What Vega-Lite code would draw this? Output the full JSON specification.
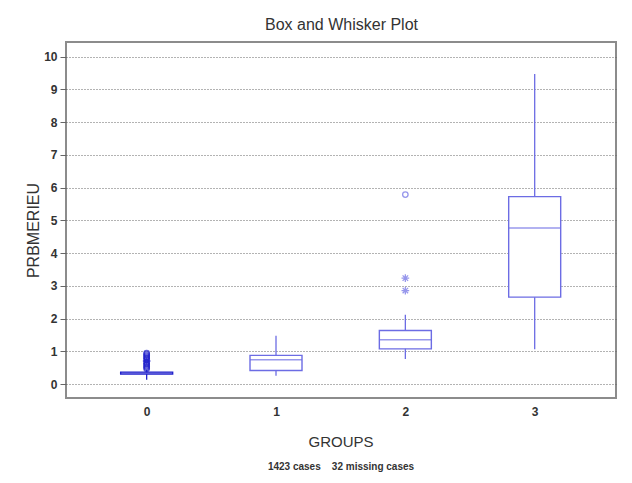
{
  "$schema": "https://vega.github.io/schema/vega-lite/v6.json",
  "width": 550,
  "height": 356,
  "autosize": "none",
  "padding": {"left": 66, "top": 42, "right": 16, "bottom": 85},
  "background": "white",
  "title": {
    "text": "GROUPS",
    "subtitle": "1423 cases\u00a0\u00a0\u00a0 32 missing cases",
    "orient": "bottom",
    "anchor": "middle",
    "font": "Liberation Sans",
    "fontSize": 15,
    "fontWeight": "normal",
    "color": "#333333",
    "offset": 18,
    "subtitleFont": "Liberation Sans",
    "subtitleFontSize": 10,
    "subtitleFontWeight": "bold",
    "subtitleColor": "#333333",
    "subtitlePadding": 12
  },
  "datasets": {
    "boxes": [
      {"group": 0, "lower": 0.14, "q1": 0.31, "median": 0.34, "q3": 0.37, "upper": 0.45},
      {"group": 1, "lower": 0.26, "q1": 0.42, "median": 0.75, "q3": 0.88, "upper": 1.48},
      {"group": 2, "lower": 0.77, "q1": 1.08, "median": 1.36, "q3": 1.64, "upper": 2.12},
      {"group": 3, "lower": 1.07, "q1": 2.66, "median": 4.77, "q3": 5.73, "upper": 9.47}
    ],
    "outliers": [
      {"group": 0, "value": 0.47, "kind": "outlier"},
      {"group": 0, "value": 0.51, "kind": "outlier"},
      {"group": 0, "value": 0.55, "kind": "outlier"},
      {"group": 0, "value": 0.59, "kind": "outlier"},
      {"group": 0, "value": 0.63, "kind": "outlier"},
      {"group": 0, "value": 0.67, "kind": "outlier"},
      {"group": 0, "value": 0.71, "kind": "extreme"},
      {"group": 0, "value": 0.75, "kind": "outlier"},
      {"group": 0, "value": 0.79, "kind": "outlier"},
      {"group": 0, "value": 0.83, "kind": "outlier"},
      {"group": 0, "value": 0.87, "kind": "outlier"},
      {"group": 0, "value": 0.91, "kind": "outlier"},
      {"group": 0, "value": 0.95, "kind": "outlier"},
      {"group": 2, "value": 5.79, "kind": "outlier"},
      {"group": 2, "value": 3.24, "kind": "extreme"},
      {"group": 2, "value": 2.86, "kind": "extreme"}
    ]
  },
  "layer": [
    {
      "data": {"name": "boxes"},
      "mark": {"type": "rule", "strokeWidth": 1.3},
      "encoding": {
        "x": {
          "field": "group", "type": "quantitative",
          "scale": {"domain": [-0.585, 3.59], "nice": false, "zero": false},
          "axis": {
            "orient": "bottom", "title": null, "values": [0, 1, 2, 3], "format": "d",
            "ticks": false, "domain": false, "grid": false,
            "labelFont": "Liberation Sans Narrow, Arial Narrow, Liberation Sans",
            "labelFontSize": 12, "labelFontWeight": "bold", "labelColor": "#333333",
            "labelPadding": 8
          }
        },
        "y": {
          "field": "lower", "type": "quantitative", "title": "PRBMERIEU",
          "scale": {"domain": [-0.42, 10.45], "nice": false, "zero": false},
          "axis": {"values": [0, 1, 2, 3, 4, 5, 6, 7, 8, 9, 10], "tickCount": 11}
        },
        "y2": {"field": "upper"},
        "stroke": {
          "field": "group", "type": "nominal",
          "scale": {"domain": [0, 1, 2, 3], "range": ["#2222cc", "#6c6ce4", "#6c6ce4", "#6c6ce4"]},
          "legend": null
        }
      }
    },
    {
      "data": {"name": "boxes"},
      "mark": {"type": "bar", "size": 52, "fill": "white", "strokeWidth": 1.4},
      "encoding": {
        "x": {
          "field": "group", "type": "quantitative",
          "scale": {"domain": [-0.585, 3.59], "nice": false, "zero": false},
          "axis": null
        },
        "y": {
          "field": "q1", "type": "quantitative", "title": "PRBMERIEU",
          "scale": {"domain": [-0.42, 10.45], "nice": false, "zero": false},
          "axis": {"values": [0, 1, 2, 3, 4, 5, 6, 7, 8, 9, 10], "tickCount": 11}
        },
        "y2": {"field": "q3"},
        "stroke": {
          "field": "group", "type": "nominal",
          "scale": {"domain": [0, 1, 2, 3], "range": ["#2222cc", "#6c6ce4", "#6c6ce4", "#6c6ce4"]},
          "legend": null
        }
      }
    },
    {
      "data": {"name": "boxes"},
      "mark": {"type": "tick", "orient": "horizontal", "size": 52, "thickness": 1.4},
      "encoding": {
        "x": {
          "field": "group", "type": "quantitative",
          "scale": {"domain": [-0.585, 3.59], "nice": false, "zero": false},
          "axis": null
        },
        "y": {
          "field": "median", "type": "quantitative", "title": "PRBMERIEU",
          "scale": {"domain": [-0.42, 10.45], "nice": false, "zero": false},
          "axis": {"values": [0, 1, 2, 3, 4, 5, 6, 7, 8, 9, 10], "tickCount": 11}
        },
        "color": {
          "field": "group", "type": "nominal",
          "scale": {"domain": [0, 1, 2, 3], "range": ["#2222cc", "#6c6ce4", "#6c6ce4", "#6c6ce4"]},
          "legend": null
        }
      }
    },
    {
      "data": {"name": "outliers"},
      "mark": {"type": "point", "filled": false, "strokeWidth": 1.3, "size": 30},
      "encoding": {
        "x": {
          "field": "group", "type": "quantitative",
          "scale": {"domain": [-0.585, 3.59], "nice": false, "zero": false},
          "axis": {
            "orient": "top", "title": "Box and Whisker Plot",
            "labels": false, "ticks": false, "domain": false, "grid": false,
            "titleFont": "Liberation Sans", "titleFontSize": 16, "titleFontWeight": "normal",
            "titleColor": "#333333", "titlePadding": 10
          }
        },
        "y": {
          "field": "value", "type": "quantitative", "title": "PRBMERIEU",
          "scale": {"domain": [-0.42, 10.45], "nice": false, "zero": false},
          "axis": {"values": [0, 1, 2, 3, 4, 5, 6, 7, 8, 9, 10], "tickCount": 11}
        },
        "shape": {
          "field": "kind", "type": "nominal",
          "scale": {"domain": ["outlier", "extreme"], "range": ["circle", "M-1.4,0L1.4,0M0,-1.4L0,1.4M-1,-1L1,1M-1,1L1,-1"]},
          "legend": null
        },
        "stroke": {
          "field": "group", "type": "nominal",
          "scale": {"domain": [0, 1, 2, 3], "range": ["#2222cc", "#6c6ce4", "#6c6ce4", "#6c6ce4"]},
          "legend": null
        }
      }
    }
  ],
  "resolve": {"axis": {"x": "independent"}},
  "config": {
    "view": {"stroke": "#8c8c8c", "strokeWidth": 2},
    "axisY": {
      "domain": false, "ticks": true, "tickSize": 6, "tickColor": "#666666",
      "grid": true, "gridColor": "#666666", "gridDash": [1, 2], "gridWidth": 1,
      "labelFont": "Liberation Sans Narrow, Arial Narrow, Liberation Sans",
      "labelFontSize": 12, "labelFontWeight": "bold", "labelColor": "#333333",
      "labelPadding": 3,
      "titleFont": "Liberation Sans", "titleFontSize": 16, "titleFontWeight": "normal",
      "titleColor": "#333333", "titlePadding": 2, "titleY": 188
    }
  }
}
